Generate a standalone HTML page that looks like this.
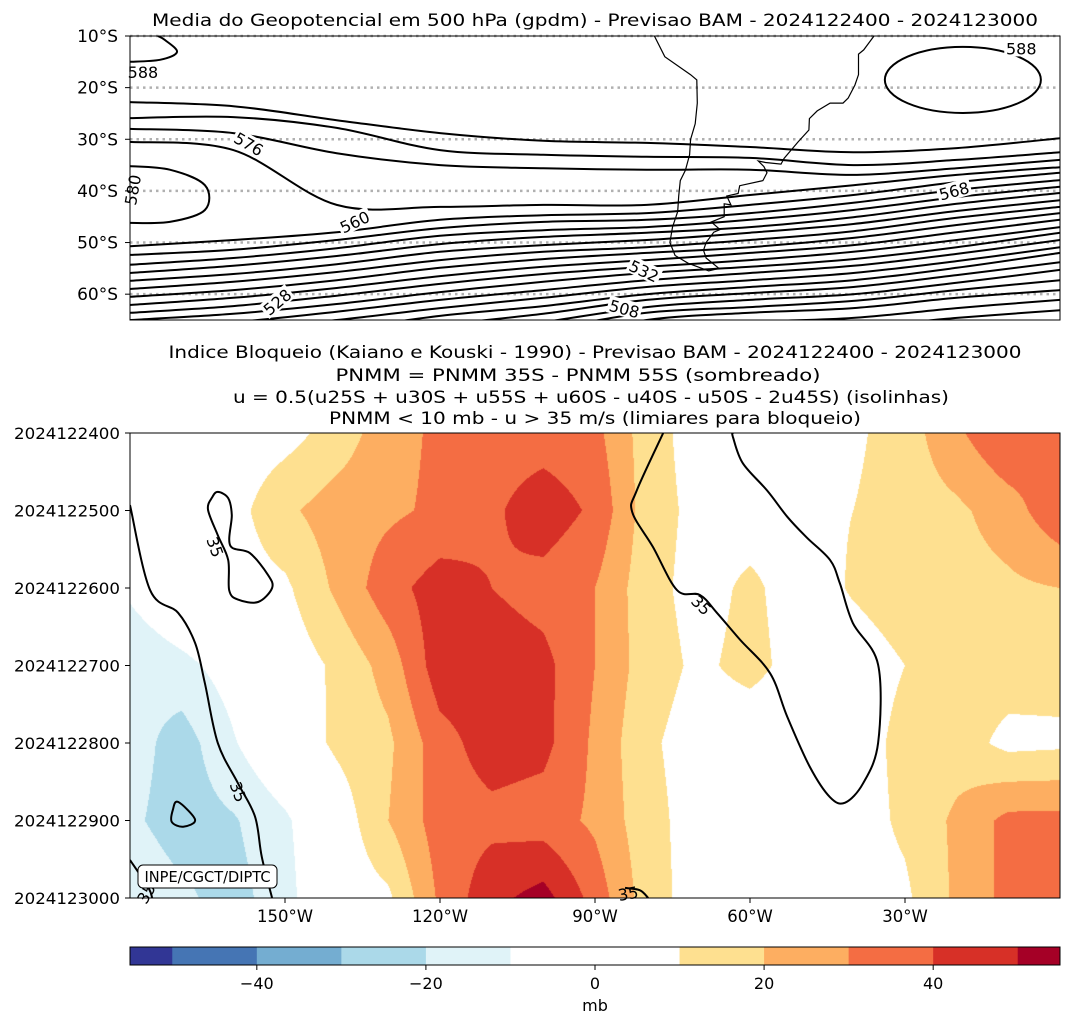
<!DOCTYPE html>
<html><head><meta charset="utf-8">
<style>
html,body{margin:0;padding:0;background:#fff;}
#wrap{position:relative;width:1071px;height:1025px;overflow:hidden;font-family:"DejaVu Sans","Liberation Sans",sans-serif;}
#field{position:absolute;left:130px;top:433px;}
svg{position:absolute;left:0;top:0;}
text{font-family:"DejaVu Sans","Liberation Sans",sans-serif;fill:#000;}
</style></head>
<body>
<div id="wrap">
<canvas id="field" width="930" height="465"></canvas>
<svg id="svg" width="1071" height="1025" viewBox="0 0 1071 1025">
<defs>
<clipPath id="clipTop"><rect x="130" y="36" width="930" height="284"/></clipPath>
<clipPath id="clipBot"><rect x="130" y="433" width="930" height="465"/></clipPath>
</defs>
<text x="595" y="26" font-size="17" text-anchor="middle" textLength="886" lengthAdjust="spacingAndGlyphs">Media do Geopotencial em 500 hPa (gpdm) - Previsao BAM - 2024122400 - 2024123000</text>
<g id="topGrid"></g>
<g id="coast" clip-path="url(#clipTop)"></g>
<g id="topContours" clip-path="url(#clipTop)"></g>
<g id="topLabels"></g>
<rect x="130" y="36" width="930" height="284" fill="none" stroke="#000" stroke-width="1"/>
<g id="latTicks"></g>

<text x="595" y="358" font-size="17" text-anchor="middle" textLength="853" lengthAdjust="spacingAndGlyphs">Indice Bloqueio (Kaiano e Kouski - 1990) - Previsao BAM - 2024122400 - 2024123000</text>
<text x="578" y="381" font-size="17" text-anchor="middle" textLength="485" lengthAdjust="spacingAndGlyphs">PNMM = PNMM 35S - PNMM 55S (sombreado)</text>
<text x="591" y="403" font-size="17" text-anchor="middle" textLength="716" lengthAdjust="spacingAndGlyphs">u = 0.5(u25S + u30S + u55S + u60S - u40S - u50S - 2u45S) (isolinhas)</text>
<text x="595" y="424" font-size="17" text-anchor="middle" textLength="532" lengthAdjust="spacingAndGlyphs">PNMM &lt; 10 mb - u &gt; 35 m/s (limiares para bloqueio)</text>
<g id="uContours" clip-path="url(#clipBot)"></g>
<g id="uLabels"></g>
<rect x="130" y="433" width="930" height="465" fill="none" stroke="#000" stroke-width="1"/>
<g id="timeTicks"></g>
<g id="lonTicks"></g>
<g>
<rect x="138" y="865" width="139" height="23" rx="5" ry="5" fill="#fff" stroke="#000" stroke-width="1"/>
<text x="207.5" y="882" font-size="15" text-anchor="middle" textLength="126" lengthAdjust="spacingAndGlyphs">INPE/CGCT/DIPTC</text>
</g>
<g id="colorbar"></g>
<text x="595" y="1011" font-size="16" text-anchor="middle">mb</text>
</svg>
</div>
<script>
// ---------- DATA: bottom panel (PNMM 35S - 55S, mb) ----------
const lonCols = [-180,-170,-160,-150,-140,-130,-120,-110,-100,-90,-80,-70,-60,-50,-40,-30,-20,-10,0];
const dayRows = [0,1,2,3,4,5,6];
const pnmmDay0 = [0,0,3,6,14,26,32,35,35,33,15,5,3,3,8,15,28,40,32];
const pnmmDay1 = [0,2,6,18,25,28,32,38,46,38,15,7,5,8,10,15,18,25,38];
const pnmmDay2 = [-8,2,5,8,22,36,45,40,36,30,14,6,12,5,11,15,16,18,20];
const pnmmDay3 = [-18,-13,-5,3,12,24,46,46,43,30,15,8,13,6,5,10,15,15,14];
const pnmmDay4 = [-15,-25,-11,2,12,18,36,45,43,28,12,5,3,3,5,13,15,7,8];
const pnmmDay5 = [-18,-25,-21,-12,3,20,35,37,35,28,14,5,3,3,5,12,22,33,33];
const pnmmDay6 = [-12,-18,-24,-14,3,8,32,47,54,36,15,5,3,3,5,8,22,33,38];
const timeLabels = ['2024122400','2024122500','2024122600','2024122700','2024122800','2024122900','2024123000'];
const lonTickValues = [-150,-120,-90,-60,-30];
const lonTickLabels = ['150°W','120°W','90°W','60°W','30°W'];
const cbarLevels = [-55,-50,-40,-30,-20,-10,10,20,30,40,50,55];
const cbarColors = ['#313695','#4575b4','#74add1','#abd9e9','#e0f3f8','#ffffff','#fee090','#fdae61','#f46d43','#d73027','#a50026'];
const cbarTicks = [-40,-20,0,20,40];
// u = 35 m/s isolines: [lon, day] pairs
const uLeft = [[-180,0.93],[-176.1,2.03],[-170.7,2.32],[-167.4,2.71],[-165.5,3.23],[-163.0,4.0],[-159.1,4.52],[-155.8,4.95],[-154.5,5.47],[-152.5,6.0]];
const uLoop = [[-163.0,0.76],[-161.0,0.84],[-160.3,1.06],[-160.6,1.45],[-156.8,1.55],[-153.3,1.83],[-152.5,2.0],[-155.2,2.18],[-159.1,2.15],[-160.8,2.03],[-161.0,1.64],[-163.0,1.32],[-164.9,0.99],[-164.1,0.83]];
const uSmall = [[-170.7,4.76],[-167.4,4.99],[-169.7,5.08],[-171.9,5.02],[-171.7,4.86]];
const uCorner = [[-180,5.51],[-176.5,5.86],[-175.7,6.0]];
const uBottom = [[-84.2,5.87],[-81.3,5.9],[-79.7,6.0]];
const uRight = [[-76.8,0],[-81.9,0.74],[-82.8,1.02],[-78.8,1.47],[-74.1,2.03],[-69.7,2.09],[-66.4,2.32],[-61.9,2.67],[-56.1,3.10],[-52.8,3.66],[-48.4,4.31],[-44.5,4.70],[-41.6,4.77],[-38.1,4.52],[-35.2,4.0],[-35.2,2.99],[-40.1,2.45],[-42.6,1.94],[-44.5,1.64],[-49.0,1.35],[-52.8,1.08],[-56.7,0.74],[-61.4,0.39],[-63.3,0.05],[-63.3,0]];
const uLabelPts = [[-163.5,1.47,70],[-159.0,4.63,70],[-69.4,2.22,45],[-83.6,5.94,-10],[-176.9,5.94,-60]];

// ---------- DATA: top map (geopotential 500 hPa, lat in degrees south) ----------
const mapLons = [-180,-160,-140,-120,-100,-80,-60,-40,-20,0];
const gLine1 = [22.8,23.6,26.3,28.8,30.3,30.7,31.5,32.5,31.7,29.8];
const gLine2 = [25.9,25.7,27.8,32.1,33.0,33.4,33.6,35.0,34.0,32.5];
const gLine3 = [28.0,28.8,32.7,35.0,35.6,35.9,35.9,36.9,35.6,34.0];
const gLine4 = [30.5,32.1,42.7,43.1,42.7,42.7,40.8,38.9,36.9,35.4];
const gLine5 = [50.7,49.5,48.0,45.6,44.7,44.3,42.7,40.8,38.3,36.5];
const gLine6 = [52.4,51.4,49.5,47.2,46.0,45.6,44.3,42.3,39.8,37.9];
const gLine7 = [54.3,53.0,51.1,48.7,47.6,47.0,45.6,43.7,41.2,39.2];
const gLine8 = [55.9,54.5,52.6,50.3,48.9,48.1,47.0,45.1,42.5,40.4];
const gLine9 = [57.4,56.1,54.2,51.8,50.5,49.5,48.1,46.4,43.9,41.8];
const gLine10 = [59.0,57.6,55.7,53.4,51.8,50.9,49.5,47.8,45.2,43.1];
const gLine11 = [60.5,59.2,57.3,54.9,53.2,52.0,50.9,49.1,46.6,44.3];
const gLine12 = [62.1,60.7,58.8,56.5,54.7,53.4,52.0,50.5,48.0,45.6];
const gLine13 = [63.6,62.3,60.3,58.0,56.1,54.7,53.4,51.8,49.5,47.0];
const gLine14 = [65.0,63.8,61.9,59.6,57.6,55.9,54.7,53.2,50.9,48.1];
const gLine15 = [66.4,65.4,63.4,61.1,59.2,57.3,55.9,54.5,52.2,49.5];
const gLine16 = [67.9,66.9,65.0,62.7,60.7,58.6,57.3,55.9,53.6,50.9];
const gLine17 = [69.8,68.9,66.9,64.2,62.3,60.0,58.6,57.3,54.9,52.0];
const gLine18 = [71.8,70.8,68.9,66.0,63.8,61.1,59.8,58.6,56.3,53.8];
const gLine19 = [73.7,72.7,70.8,67.9,65.4,62.5,61.1,60.0,57.8,55.3];
const gLine20 = [75.6,74.7,72.7,69.8,66.9,63.6,62.5,61.3,59.2,57.3];
const gLine21 = [77.6,76.6,74.7,71.8,68.9,65.0,63.6,62.7,60.7,59.2];
const gLine22 = [79.5,78.5,76.6,73.7,70.8,66.9,65.4,64.6,62.7,61.1];
const gLine23 = [81.5,80.5,78.5,75.6,72.7,68.9,67.3,66.4,64.6,63.1];
const gLoop580 = [[-180,35.2],[-172.3,35.9],[-165.5,38.9],[-165.5,43.7],[-172.3,46.0],[-180,46.2]];
const gTop588 = [[-180,15.0],[-174.2,14.6],[-170.9,13.1],[-173.2,10.8],[-174.6,10.0]];
const gHigh588 = {lon:-18.8, lat:18.5, rlon:15.1, rlat:6.4};
const latTicks = [10,20,30,40,50,60];
const coastSA = [[-78.5,10],[-76.5,14],[-71.5,17.5],[-70.3,18.5],[-70.2,23],[-70.6,27],[-71.5,30],[-71.7,33],[-72.5,36],[-73.5,38],[-73.8,41],[-74,44],[-75,47],[-75.5,50],[-74.5,52.5],[-72,54],[-68,55.5],[-66,55],[-68.5,53],[-69,51.5],[-68.5,50],[-67,48],[-65.8,47.5],[-67.5,46],[-65,45],[-65,42.5],[-63.7,42.7],[-64.5,41],[-62.3,40.5],[-62,39],[-57.5,38],[-56.7,36.5],[-57.3,35.3],[-58.4,34.2],[-57,34.5],[-54,34.8],[-53.4,33.7],[-50.7,30.5],[-48.6,28.2],[-48.5,26],[-47,24.5],[-44.5,23],[-42,23],[-41,22],[-39.7,19.5],[-39,17.5],[-39,13.5],[-38,12.7],[-36,10]];
const topLabelData = [[-7.5,12.4,'588',0],[-177.5,17.0,'588',0],[-157.0,30.9,'576',30],[-179.5,39.8,'580',-80],[-136.5,46.0,'560',-25],[-20.5,40.0,'568',-15],[-80.5,55.5,'532',25],[-84.3,62.8,'508',15],[-151.5,61.5,'528',-40]];

// ---------- axes ----------
const NS='http://www.w3.org/2000/svg';
const X0=130, X1=1060;
function xLon(lon){return X0+(lon+180)/180*(X1-X0);}
function yLat(lat){return 36+(lat-10)/55*284;}
function yDay(d){return 433+d/6*465;}
function xCb(v){return 130+(v+55)/110*930;}
function el(tag,attrs,parent){const e=document.createElementNS(NS,tag);for(const k in attrs)e.setAttribute(k,attrs[k]);parent.appendChild(e);return e;}
function smoothPath(pts,closed){
  if(pts.length<3){return 'M'+pts.map(p=>p[0].toFixed(1)+','+p[1].toFixed(1)).join('L');}
  const n=pts.length;let d='M'+pts[0][0].toFixed(1)+','+pts[0][1].toFixed(1);
  const get=i=>closed?pts[(i+n)%n]:pts[Math.max(0,Math.min(n-1,i))];
  const last=closed?n:n-1;
  for(let i=0;i<last;i++){const p0=get(i-1),p1=get(i),p2=get(i+1),p3=get(i+2);
    const c1=[p1[0]+(p2[0]-p0[0])/6,p1[1]+(p2[1]-p0[1])/6],c2=[p2[0]-(p3[0]-p1[0])/6,p2[1]-(p3[1]-p1[1])/6];
    d+='C'+c1[0].toFixed(1)+','+c1[1].toFixed(1)+' '+c2[0].toFixed(1)+','+c2[1].toFixed(1)+' '+p2[0].toFixed(1)+','+p2[1].toFixed(1);}
  if(closed)d+='Z';return d;}

// ---------- filled field ----------
const fieldRows=[pnmmDay0,pnmmDay1,pnmmDay2,pnmmDay3,pnmmDay4,pnmmDay5,pnmmDay6];
(function(){
  const cv=document.getElementById('field');const ctx=cv.getContext('2d');
  const W=cv.width,H=cv.height;const img=ctx.createImageData(W,H);
  const rgb=cbarColors.map(c=>[parseInt(c.substr(1,2),16),parseInt(c.substr(3,2),16),parseInt(c.substr(5,2),16)]);
  const nc=lonCols.length-1, nr=dayRows.length-1;
  for(let py=0;py<H;py++){
    const fy=(py+0.5)/H*nr;const r0=Math.min(nr-1,Math.floor(fy));const ty=fy-r0;
    for(let px=0;px<W;px++){
      const lon=-180+(px+0.5)/W*180;const fx=(lon-lonCols[0])/(lonCols[1]-lonCols[0]);
      const c0=Math.min(nc-1,Math.floor(fx));const tx=fx-c0;
      const a=fieldRows[r0][c0],b=fieldRows[r0][c0+1],c=fieldRows[r0+1][c0],d=fieldRows[r0+1][c0+1];
      const v=a*(1-tx)*(1-ty)+b*tx*(1-ty)+c*(1-tx)*ty+d*tx*ty;
      let k=0;while(k<cbarColors.length-1&&v>=cbarLevels[k+1])k++;
      const col=rgb[k];const i=(py*W+px)*4;img.data[i]=col[0];img.data[i+1]=col[1];img.data[i+2]=col[2];img.data[i+3]=255;}}
  ctx.putImageData(img,0,0);
})();

// ---------- u contours ----------
const ug=document.getElementById('uContours');
[[uLeft,false,'u-contour-left'],[uLoop,true,'u-contour-loop'],[uSmall,true,'u-contour-small-loop'],[uCorner,false,'u-contour-corner'],[uBottom,false,'u-contour-bottom'],[uRight,false,'u-contour-right']].forEach(([pts,closed,name])=>{
  const p=el('path',{d:smoothPath(pts.map(q=>[xLon(q[0]),yDay(q[1])]),closed),fill:'none',stroke:'#000','stroke-width':2},ug);
  
  
});
const ul=document.getElementById('uLabels');
uLabelPts.forEach(q=>{const x=xLon(q[0]),y=yDay(q[1]);
  const t=el('text',{x:x,y:y+6,'font-size':16,'text-anchor':'middle',transform:'rotate('+q[2]+' '+x+' '+y+')'},ul);t.textContent='35';
  
  
});

// ---------- bottom axes ----------
const tg=document.getElementById('timeTicks');
timeLabels.forEach((s,i)=>{const y=yDay(dayRows[i]);
  el('line',{x1:125,x2:130,y1:y,y2:y,stroke:'#000'},tg);
  const t=el('text',{x:120,y:y+6,'font-size':16,'text-anchor':'end',textLength:106,lengthAdjust:'spacingAndGlyphs'},tg);t.textContent=s;
  
  
});
const lg=document.getElementById('lonTicks');
lonTickValues.forEach((v,i)=>{const x=xLon(v);
  el('line',{x1:x,x2:x,y1:898,y2:903,stroke:'#000'},lg);
  const t=el('text',{x:x,y:922,'font-size':16.5,'text-anchor':'middle'},lg);t.textContent=lonTickLabels[i];
  
  
});

// ---------- colorbar ----------
const cb=document.getElementById('colorbar');
cbarColors.forEach((c,i)=>{const r=el('rect',{x:xCb(cbarLevels[i]),y:947,width:xCb(cbarLevels[i+1])-xCb(cbarLevels[i])+0.5,height:18,fill:c},cb);
  
  
});
el('rect',{x:130,y:947,width:930,height:18,fill:'none',stroke:'#000','stroke-width':1},cb);
cbarTicks.forEach(v=>{const x=xCb(v);el('line',{x1:x,x2:x,y1:965,y2:970,stroke:'#000'},cb);
  const t=el('text',{x:x,y:989,'font-size':16,'text-anchor':'middle'},cb);t.textContent=(v<0?'\u2212'+(-v):String(v));
  
  
});

// ---------- top map ----------
const gg=document.getElementById('topGrid');
latTicks.forEach(l=>{const y=yLat(l);el('line',{x1:130,x2:1060,y1:y,y2:y,stroke:'#b0b0b0','stroke-width':2.5,'stroke-dasharray':'2.5 4'},gg);});
const latg=document.getElementById('latTicks');
latTicks.forEach(l=>{const y=yLat(l);el('line',{x1:125,x2:130,y1:y,y2:y,stroke:'#000'},latg);
  const t=el('text',{x:118,y:y+6,'font-size':17,'text-anchor':'end'},latg);t.textContent=l+'°S';
  
  
});
const cg=document.getElementById('coast');
const cp=el('path',{d:'M'+coastSA.map(p=>xLon(p[0]).toFixed(1)+','+yLat(p[1]).toFixed(1)).join('L'),fill:'none',stroke:'#000','stroke-width':1.2},cg);


const gcg=document.getElementById('topContours');
[gLine1,gLine2,gLine3,gLine4,gLine5,gLine6,gLine7,gLine8,gLine9,gLine10,gLine11,gLine12,gLine13,gLine14,gLine15,gLine16,gLine17,gLine18,gLine19,gLine20,gLine21,gLine22,gLine23].forEach(arr=>{
  const p=el('path',{d:smoothPath(arr.map((lat,i)=>[xLon(mapLons[i]),yLat(lat)]),false),fill:'none',stroke:'#000','stroke-width':2},gcg);
  
  
});
[[gLoop580,false],[gTop588,false]].forEach(([pts,cl])=>{
  const p=el('path',{d:smoothPath(pts.map(q=>[xLon(q[0]),yLat(q[1])]),cl),fill:'none',stroke:'#000','stroke-width':2},gcg);
  
  
});
const ell=el('ellipse',{cx:xLon(gHigh588.lon),cy:yLat(gHigh588.lat),rx:gHigh588.rlon*930/180,ry:gHigh588.rlat*284/55,fill:'none',stroke:'#000','stroke-width':2},gcg);


const tl=document.getElementById('topLabels');
topLabelData.forEach(q=>{const x=xLon(q[0]),y=yLat(q[1]);
  el('rect',{x:x-17,y:y-9,width:34,height:17,fill:'#fff',transform:'rotate('+q[3]+' '+x+' '+y+')'},tl);
  const t=el('text',{x:x,y:y+6,'font-size':16,'text-anchor':'middle',transform:'rotate('+q[3]+' '+x+' '+y+')'},tl);t.textContent=q[2];
  
  
});
</script>
</body></html>
